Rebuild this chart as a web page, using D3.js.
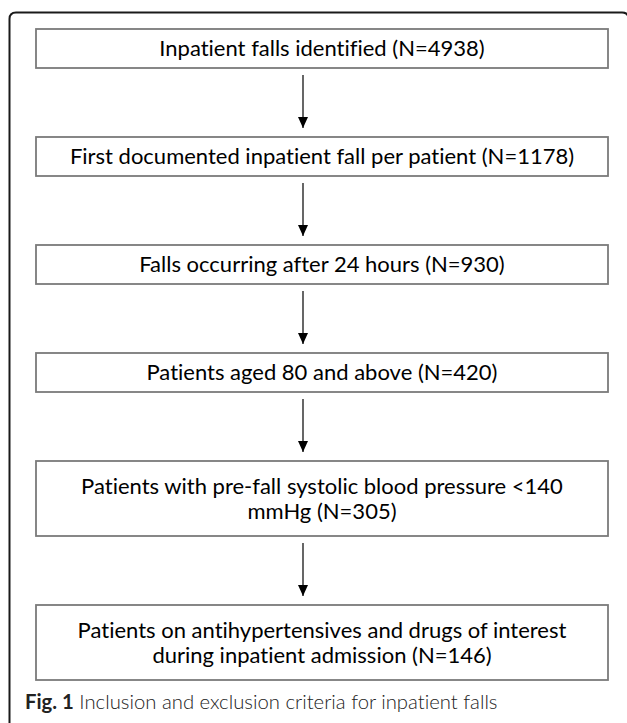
<!DOCTYPE html>
<meta charset="utf-8">
<style>
  body { margin: 0; background: #fff; }
  svg { display: block; }
  text { font-variant-ligatures: none; }
</style>
<script src="https://d3js.org/d3.v7.min.js"></script>
<svg id="flow" width="627" height="723"></svg>
<script>

// Flow steps (text lines of each box) and their counts
var stepLines = [
  ["Inpatient falls identified"],
  ["First documented inpatient fall per patient"],
  ["Falls occurring after 24 hours"],
  ["Patients aged 80 and above"],
  ["Patients with pre-fall systolic blood pressure <140", "mmHg"],
  ["Patients on antihypertensives and drugs of interest", "during inpatient admission"]
];
var stepN = [4938, 1178, 930, 420, 305, 146];
var captionBold = "Fig. 1";
var captionText = " Inclusion and exclusion criteria for inpatient falls";

var svg = d3.select("#flow"),
  width = +svg.attr("width"),
  height = +svg.attr("height");

// layout
var boxX0 = 36, boxX1 = 608;
var firstTop = 29, gap = 69, lineStep = 25;
var arrowX = 303;

// full label text per box, N appended to last line
var boxes = stepLines.map(function(lines, i) {
  var l = lines.slice();
  l[l.length - 1] = l[l.length - 1] + " (N=" + stepN[i] + ")";
  return { lines: l, h: lines.length == 1 ? 39 : 75 };
});
var y = firstTop;
boxes.forEach(function(b) { b.top = y; y += b.h + gap; });

// outer frame (rounded, runs off the right and bottom edges)
svg.append("path")
  .attr("d", "M9.5,724 L9.5,19 Q9.5,12.5 16,12.5 L622,12.5 Q628.5,12.5 628.5,19 L628.5,723")
  .attr("fill", "none")
  .attr("stroke", "#1a1a1a")
  .attr("stroke-width", 2);

// arrowhead marker, pointing along the line
svg.append("defs").append("marker")
  .attr("id", "head")
  .attr("viewBox", "0 0 11 10")
  .attr("refX", 11).attr("refY", 5)
  .attr("markerWidth", 11).attr("markerHeight", 10)
  .attr("markerUnits", "userSpaceOnUse")
  .attr("orient", "auto")
  .append("path")
  .attr("d", "M0,0 L11,5 L0,10 Z")
  .attr("fill", "#000");

// arrows between boxes
svg.append("g").selectAll("line")
  .data(d3.pairs(boxes))
  .enter().append("line")
    .attr("x1", arrowX).attr("x2", arrowX)
    .attr("y1", function(d) { return d[0].top + d[0].h + 7; })
    .attr("y2", function(d) { return d[1].top - 9; })
    .attr("stroke", "#000")
    .attr("stroke-width", 1.2)
    .attr("marker-end", "url(#head)");

// boxes
var g = svg.append("g").selectAll("g")
  .data(boxes)
  .enter().append("g");

g.append("rect")
  .attr("x", boxX0)
  .attr("y", function(d) { return d.top; })
  .attr("width", boxX1 - boxX0)
  .attr("height", function(d) { return d.h; })
  .attr("fill", "#fff")
  .attr("stroke", "#7a7a7a")
  .attr("stroke-width", 1.8);

g.append("text")
  .attr("text-anchor", "middle")
  .attr("font-family", "Lato, 'Open Sans', sans-serif")
  .attr("font-size", 22)
  .attr("fill", "#000")
  .each(function(d) {
    var t = d3.select(this);
    var cy = d.top + d.h / 2;
    var start = cy - (d.lines.length - 1) * lineStep / 2;
    d.lines.forEach(function(s, k) {
      t.append("tspan")
        .attr("x", (boxX0 + boxX1) / 2)
        .attr("y", start + k * lineStep)
        .attr("dy", "0.35em")
        .text(s);
    });
  });

// caption
var cap = svg.append("text")
  .attr("x", 25)
  .attr("y", 709)
  .attr("font-family", "Lato, 'Open Sans', sans-serif")
  .attr("font-size", 20.3)
  .attr("fill", "#222");
cap.append("tspan").attr("font-weight", "bold").text(captionBold);
cap.append("tspan").attr("font-weight", 300).text(captionText);

</script>
